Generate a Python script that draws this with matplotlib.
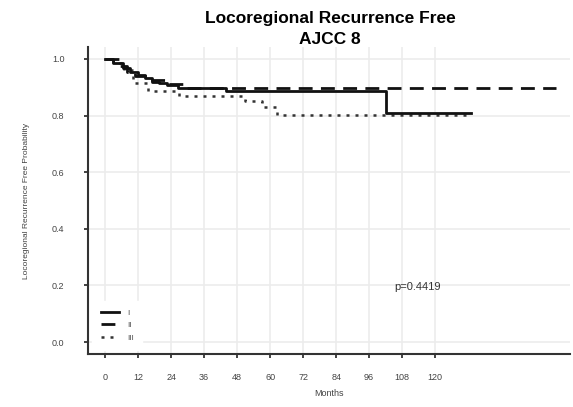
import matplotlib
matplotlib.use("Agg")
import matplotlib.pyplot as plt

plt.rcParams['font.family'] = ['Liberation Sans', 'DejaVu Sans']

# Kaplan-Meier step data
time_I = [0, 3, 6.5, 9, 12, 14.5, 17, 19.5, 22.5, 26.5, 44, 102, 133]
surv_I = [1.0, 0.985, 0.967, 0.955, 0.943, 0.932, 0.92, 0.914, 0.908, 0.896, 0.888, 0.808, 0.808]

time_II = [0, 5, 8, 11, 16, 22, 29, 164]
surv_II = [1.0, 0.975, 0.955, 0.94, 0.925, 0.91, 0.898, 0.898]

time_III = [0, 3, 7, 10, 15.5, 27, 51, 57, 62.5, 133]
surv_III = [1.0, 0.985, 0.96, 0.915, 0.885, 0.87, 0.85, 0.83, 0.803, 0.803]

labels = ["I", "II", "III"]
x_ticks = [0, 12, 24, 36, 48, 60, 72, 84, 96, 108, 120]
y_ticks = [0.0, 0.2, 0.4, 0.6, 0.8, 1.0]
p_text = "p=0.4419"
title_lines = ["Locoregional Recurrence Free", "AJCC 8"]

fig = plt.figure(figsize=(5.73, 4.07), dpi=100)
ax = fig.add_axes([0.1536, 0.1302, 0.8412, 0.7543])

ax.set_xlim(-6.2, 169)
ax.set_ylim(-0.042, 1.042)

grid_c = '#ececec'
for x in x_ticks:
    ax.axvline(x, color=grid_c, lw=1.2, zorder=0)
for y in y_ticks:
    ax.axhline(y, color=grid_c, lw=1.2, zorder=0)

ax.step(time_I, surv_I, where='post', color='#111111', lw=2.0, label=labels[0], zorder=3)
ax.step(time_II, surv_II, where='post', color='#111111', lw=2.0, dashes=(5, 3), label=labels[1], zorder=2)
ax.step(time_III, surv_III, where='post', color='#333333', lw=1.8, dashes=(1.2, 2.4), label=labels[2], zorder=2)

ax.set_xticks(x_ticks)
ax.set_yticks(y_ticks)
ax.set_yticklabels([f"{v:.1f}" for v in y_ticks])
ax.tick_params(axis='both', labelsize=6.5, colors='#222222', labelcolor='#444444', length=3, width=1.2, direction='out')
ax.tick_params(axis='x', pad=11)
ax.tick_params(axis='y', pad=14)

for s in ['top', 'right']:
    ax.spines[s].set_visible(False)
for s in ['left', 'bottom']:
    ax.spines[s].set_color('#333333')
    ax.spines[s].set_linewidth(1.5)

ax.set_xlabel("Months", fontsize=6.5, color='#444444', labelpad=5)
ax.set_ylabel("Locoregional Recurrence Free Probability", fontsize=6, color='#444444', labelpad=16)

ax.text(105, 0.195, p_text, fontsize=8, color='#333333', ha='left', va='center')

leg = ax.legend(loc='lower left', bbox_to_anchor=(0.0, 0.0), frameon=True, fontsize=6,
                handlelength=2.2, handletextpad=1.0, labelspacing=0.55, borderpad=1.0,
                edgecolor='white', facecolor='white', framealpha=1)
for t in leg.get_texts():
    t.set_color('#555555')

fig.text(0.576, 1 - 18 / 407, title_lines[0], fontsize=12.5, fontweight='bold', ha='center', va='center')
fig.text(0.576, 1 - 40 / 407, title_lines[1], fontsize=12.5, fontweight='bold', ha='center', va='center')

fig.savefig("out.png", dpi=100)
